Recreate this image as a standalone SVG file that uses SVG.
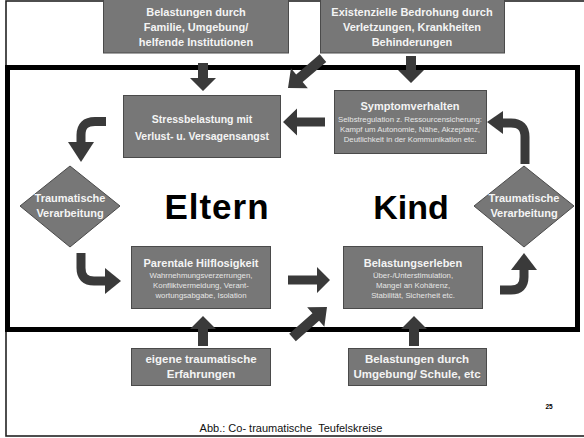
<svg xmlns="http://www.w3.org/2000/svg" width="584" height="438" viewBox="0 0 584 438">
<style>
.box{fill:#777;stroke:#4a4a4a;stroke-width:1}
.t{font-family:"Liberation Sans",Arial,sans-serif;font-weight:bold;fill:#f4f4f4;text-anchor:middle}
.s{font-family:"Liberation Sans",Arial,sans-serif;fill:#e6e6e6;text-anchor:middle;font-size:7.8px}
.big{font-family:"Liberation Sans",Arial,sans-serif;font-weight:bold;fill:#000;text-anchor:middle}
.ar{fill:#3a3a3a}
.cv{fill:none;stroke:#3a3a3a;stroke-width:9}
</style>
<rect x="0" y="0" width="584" height="438" fill="#fff"/>
<rect x="6" y="1" width="600" height="435" fill="none" stroke="#222" stroke-width="1.6"/>
<rect x="7.5" y="67.5" width="570" height="262" fill="none" stroke="#000" stroke-width="5"/>

<g id="n-belastungen-familie">
<rect class="box" x="103.5" y="-2" width="185" height="55"/>
<text class="t" font-size="11" x="196" y="16">Belastungen durch</text>
<text class="t" font-size="11" x="196" y="31">Familie, Umgebung/</text>
<text class="t" font-size="11" x="196" y="46">helfende Institutionen</text>
</g>
<g id="n-existenzielle">
<rect class="box" x="320.5" y="-2" width="184" height="55"/>
<text class="t" font-size="11" x="412" y="16">Existenzielle Bedrohung durch</text>
<text class="t" font-size="11" x="412" y="31">Verletzungen, Krankheiten</text>
<text class="t" font-size="11" x="412" y="46">Behinderungen</text>
</g>
<g id="n-stress">
<rect class="box" x="123.5" y="95.5" width="157" height="62"/>
<text class="t" font-size="10.5" x="202" y="123">Stressbelastung mit</text>
<text class="t" font-size="10.5" x="202" y="140">Verlust- u. Versagensangst</text>
</g>
<g id="n-symptom">
<rect class="box" x="334.5" y="90.5" width="152" height="63"/>
<text class="t" font-size="11" x="410" y="110">Symptomverhalten</text>
<text class="s" x="410" y="121.5">Selbstregulation z. Ressourcensicherung:</text>
<text class="s" x="410" y="131.5">Kampf um Autonomie, Nähe, Akzeptanz,</text>
<text class="s" x="410" y="141.5">Deutlichkeit in der Kommunikation etc.</text>
</g>
<g id="n-trauma-links">
<polygon class="box" points="20,206 70,166 120,206 70,247"/>
<text class="t" font-size="11" x="70" y="202">Traumatische</text>
<text class="t" font-size="11" x="70" y="217">Verarbeitung</text>
</g>
<g id="n-trauma-rechts">
<polygon class="box" points="474,206 524,166 574,206 524,247"/>
<text class="t" font-size="11" x="524" y="202">Traumatische</text>
<text class="t" font-size="11" x="524" y="217">Verarbeitung</text>
</g>
<g id="n-eltern"><text class="big" font-size="35" letter-spacing="1" x="217" y="219">Eltern</text></g>
<g id="n-kind"><text class="big" font-size="34" x="411" y="219">Kind</text></g>
<g id="n-parentale">
<rect class="box" x="131.5" y="246.5" width="139" height="62"/>
<text class="t" font-size="11" x="201" y="267">Parentale Hilflosigkeit</text>
<text class="s" x="201" y="278">Wahrnehmungsverzerrungen,</text>
<text class="s" x="201" y="288">Konfliktvermeidung, Verant-</text>
<text class="s" x="201" y="298">wortungsabgabe, Isolation</text>
</g>
<g id="n-belastungserleben">
<rect class="box" x="343.5" y="246.5" width="139" height="62"/>
<text class="t" font-size="11" x="413" y="267">Belastungserleben</text>
<text class="s" x="413" y="278">Über-/Unterstimulation,</text>
<text class="s" x="413" y="288">Mangel an Kohärenz,</text>
<text class="s" x="413" y="298">Stabilität, Sicherheit etc.</text>
</g>
<g id="n-eigene">
<rect class="box" x="131.5" y="348.5" width="139" height="37"/>
<text class="t" font-size="11.5" x="201" y="363">eigene traumatische</text>
<text class="t" font-size="11.5" x="201" y="378">Erfahrungen</text>
</g>
<g id="n-schule">
<rect class="box" x="348.5" y="348.5" width="138" height="37"/>
<text class="t" font-size="11.5" x="417" y="363">Belastungen durch</text>
<text class="t" font-size="11.5" x="417" y="378">Umgebung/ Schule, etc</text>
</g>

<g id="connectors">
<polygon class="ar" transform="translate(203,91) rotate(90)" points="-28,-5 -13,-5 -13,-13 0,0 -13,13 -13,5 -28,5"/>
<polygon class="ar" transform="translate(411,83) rotate(90)" points="-27,-5 -13,-5 -13,-13 0,0 -13,13 -13,5 -27,5"/>
<polygon class="ar" transform="translate(288,88) rotate(139.5)" points="-46,-5 -15,-5 -15,-13 0,0 -15,13 -15,5 -46,5"/>
<polygon class="ar" transform="translate(283,122) rotate(180)" points="-42,-4.5 -14,-4.5 -14,-13.5 0,0 -14,13.5 -14,4.5 -42,4.5"/>
<polygon class="ar" transform="translate(330,280) rotate(0)" points="-42,-4.5 -13,-4.5 -13,-13 0,0 -13,13 -13,4.5 -42,4.5"/>
<polygon class="ar" transform="translate(327,307) rotate(-41.4)" points="-46,-5 -15,-5 -15,-13 0,0 -15,13 -15,5 -46,5"/>
<polygon class="ar" transform="translate(203,316) rotate(-90)" points="-30,-5 -13,-5 -13,-13 0,0 -13,13 -13,5 -30,5"/>
<polygon class="ar" transform="translate(414,316) rotate(-90)" points="-30,-5 -13,-5 -13,-13 0,0 -13,13 -13,5 -30,5"/>
<path class="cv" d="M106,121.5 H95 Q81,121.5 81,135 V144"/>
<polygon class="ar" points="68,142 94,142 81,162"/>
<path class="cv" d="M81,253 V268 Q81,281 94,281 H106"/>
<polygon class="ar" points="105,268 105,294 121,281"/>
<path class="cv" d="M525,164 V137 Q525,123 511,123 H502"/>
<polygon class="ar" points="503,111 503,134 487,122"/>
<path class="cv" d="M500,290 H511 Q524,290 524,277 V268"/>
<polygon class="ar" points="511,270 537,270 524,253"/>
</g>
<text x="549" y="409" font-family="Liberation Sans,Arial,sans-serif" font-weight="bold" font-size="6.5" text-anchor="middle">25</text>
<text x="291" y="432" font-family="Liberation Sans,Arial,sans-serif" font-size="11" text-anchor="middle" fill="#111">Abb.: Co- traumatische &#160;Teufelskreise</text>
</svg>
